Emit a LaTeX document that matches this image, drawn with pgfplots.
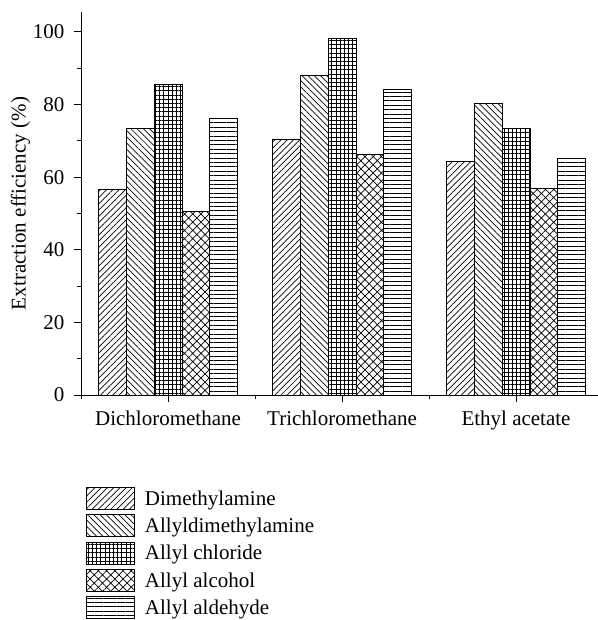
\documentclass[border=0pt]{standalone}
\usepackage{fontspec}
\setmainfont{Liberation Serif}
\usepackage{pgfplots}
\pgfplotsset{compat=1.18}
\usetikzlibrary{patterns.meta}

\tikzset{
  patA/.style={pattern={Lines[angle=45,distance=4.4bp,line width=0.7bp]}},
  patB/.style={pattern={Lines[angle=-45,distance=4.4bp,line width=0.7bp]}},
  patC/.style={pattern={Hatch[angle=0,distance=4.2bp,line width=0.7bp]}},
  patD/.style={pattern={Hatch[angle=45,distance=5.8bp,line width=0.7bp]}},
  patE/.style={pattern={Lines[angle=0,distance=4.4bp,line width=0.7bp]}},
}

\begin{document}
\begin{tikzpicture}
\path[use as bounding box] (0,0) rectangle (598bp,620bp);
\begin{axis}[
    at={(81bp,225bp)}, anchor=south west,
    scale only axis,
    width=517bp, height=383bp,
    ybar, bar width=0.16,
    xmin=-0.5, xmax=2.471,
    ymin=0, ymax=105.5,
    axis lines*=left,
    axis line style={line width=1bp},
    tick style={line width=1bp, black},
    tick align=outside,
    major tick length=7bp,
    minor tick length=4bp,
    xtick={0,1,2},
    xticklabels={Dichloromethane, Trichloromethane, Ethyl acetate},
    minor xtick={-0.5,0.5,1.5},
    ytick={0,20,...,100},
    minor ytick={10,30,50,70,90},
    ylabel={Extraction efficiency (\%)},
    ylabel shift=-4bp,
    font=\fontsize{21bp}{25bp}\selectfont,
    tick label style={font=\fontsize{21bp}{25bp}\selectfont},
    xticklabel style={yshift=-5bp},
    yticklabel style={xshift=-6bp},
    label style={font=\fontsize{21bp}{25bp}\selectfont},
    /pgf/number format/assume math mode=true,
    every axis plot/.append style={draw=black, line width=0.8bp, fill=white},
    legend image code/.code={\draw[#1] (0bp,-11bp) rectangle (48bp,11bp);},
    legend cell align=left,
    legend style={at={(rel axis cs:0,0)}, anchor=north west,
        xshift=2bp, yshift=-90bp, draw=none, fill=none,
        row sep=4.5bp, column sep=8bp,
        font=\fontsize{21bp}{25bp}\selectfont},
]

\addplot[patA, bar shift=-0.32] coordinates {(0,56.7) (1,70.4) (2,64.3)};
\addplot[patB, bar shift=-0.16] coordinates {(0,73.5) (1,87.9) (2,80.4)};
\addplot[patC, bar shift=0]     coordinates {(0,85.6) (1,98.1) (2,73.5)};
\addplot[patD, bar shift=0.16]  coordinates {(0,50.5) (1,66.3) (2,56.9)};
\addplot[patE, bar shift=0.32]  coordinates {(0,76.2) (1,84.2) (2,65.2)};

\legend{Dimethylamine, Allyldimethylamine, Allyl chloride, Allyl alcohol, Allyl aldehyde}
\end{axis}
\end{tikzpicture}
\end{document}
